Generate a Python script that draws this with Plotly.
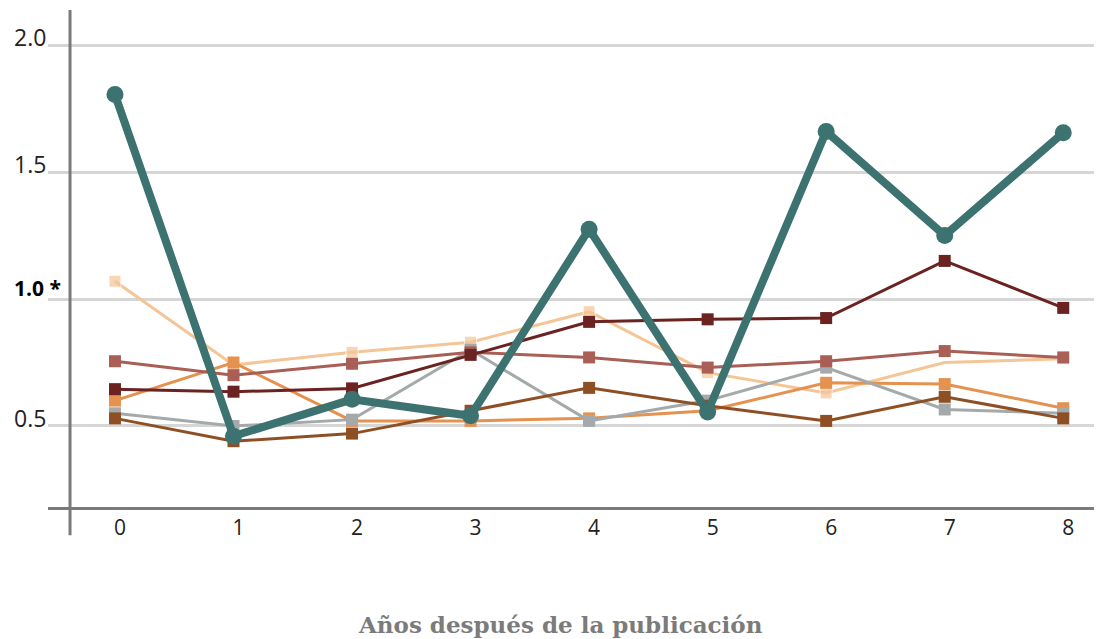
import plotly.graph_objects as go

years = [0, 1, 2, 3, 4, 5, 6, 7, 8]

peach = [1.07, 0.74, 0.79, 0.83, 0.95, 0.71, 0.63, 0.75, 0.765]
orange = [0.60, 0.75, 0.52, 0.52, 0.53, 0.56, 0.67, 0.665, 0.57]
gray = [0.55, 0.50, 0.525, 0.80, 0.52, 0.60, 0.73, 0.565, 0.55]
rose = [0.755, 0.70, 0.745, 0.79, 0.77, 0.73, 0.755, 0.795, 0.77]
brown = [0.53, 0.44, 0.47, 0.56, 0.65, 0.58, 0.52, 0.615, 0.53]
maroon = [0.645, 0.635, 0.648, 0.78, 0.91, 0.92, 0.925, 1.15, 0.965]
teal = [1.805, 0.46, 0.605, 0.54, 1.275, 0.555, 1.66, 1.25, 1.655]

y_ticks = [0.5, 1.0, 1.5, 2.0]
y_tick_text = ["0.5", "1.0 *", "1.5", "2.0"]
x_title = "Años después de la publicación"

# the peach series shows no marker in year 7 of the original
peach_marker_sizes = [12, 12, 12, 12, 12, 12, 12, 0, 12]

series = [
    (peach, "#f4c596", peach_marker_sizes),
    (orange, "#e5914f", 12),
    (gray, "#a4aaab", 12),
    (rose, "#a95e56", 12),
    (brown, "#8f4f24", 12),
    (maroon, "#6a2320", 12),
]

fig = go.Figure()
for vals, col, msize in series:
    fig.add_trace(go.Scatter(
        x=years, y=vals, mode="lines+markers",
        line=dict(color=col, width=3),
        marker=dict(symbol="square", size=msize, color=col),
        showlegend=False, hoverinfo="skip",
    ))
fig.add_trace(go.Scatter(
    x=years, y=teal, mode="lines+markers",
    line=dict(color="#3c7270", width=8),
    marker=dict(symbol="circle", size=17, color="#3c7270"),
    showlegend=False, hoverinfo="skip",
))

# page body has an 8px margin, so the figure is 8px smaller than the window
fig.update_layout(
    width=1094, height=631,
    margin=dict(l=40, r=0, t=2, b=132),
    paper_bgcolor="white", plot_bgcolor="white",
    font=dict(family="Open Sans", size=21, color="#222222"),
    xaxis=dict(
        range=[-0.565, 8.327], tickvals=years, ticktext=[str(v) for v in years],
        showgrid=False, zeroline=False, showline=True, linecolor="#7a7a7a", linewidth=3,
        ticks="", ticklabelshift=5, tickfont=dict(family="Open Sans", size=21, color="#222222"),
    ),
    yaxis=dict(
        range=[0.181, 2.138], tickvals=y_ticks, showticklabels=False,
        showgrid=True, gridcolor="#d6d6d6", gridwidth=2.5, zeroline=False, showline=False, ticks="",
    ),
    shapes=[dict(type="line", xref="paper", yref="paper", x0=0.0209, x1=0.0209, y0=-0.057, y1=1.0,
                 line=dict(color="#7a7a7a", width=3))],
)

for v, t in zip(y_ticks, y_tick_text):
    bold = "*" in t
    fig.add_annotation(x=-0.0342, xref="paper", y=v, yref="y",
                       text=("<b>" + t + "</b>") if bold else t, showarrow=False,
                       xanchor="left", yanchor="middle", yshift=11 if bold else 8,
                       font=dict(family="Open Sans", size=21 if bold else 23,
                                 color="#000000" if bold else "#222222"))

fig.add_annotation(x=0.486, xref="paper", y=-0.237, yref="paper", text="<b>" + x_title + "</b>",
                   showarrow=False, xanchor="center", yanchor="middle",
                   font=dict(family="DejaVu Serif", size=23, color="#7b7b7b"))

fig.write_html("out.html")
